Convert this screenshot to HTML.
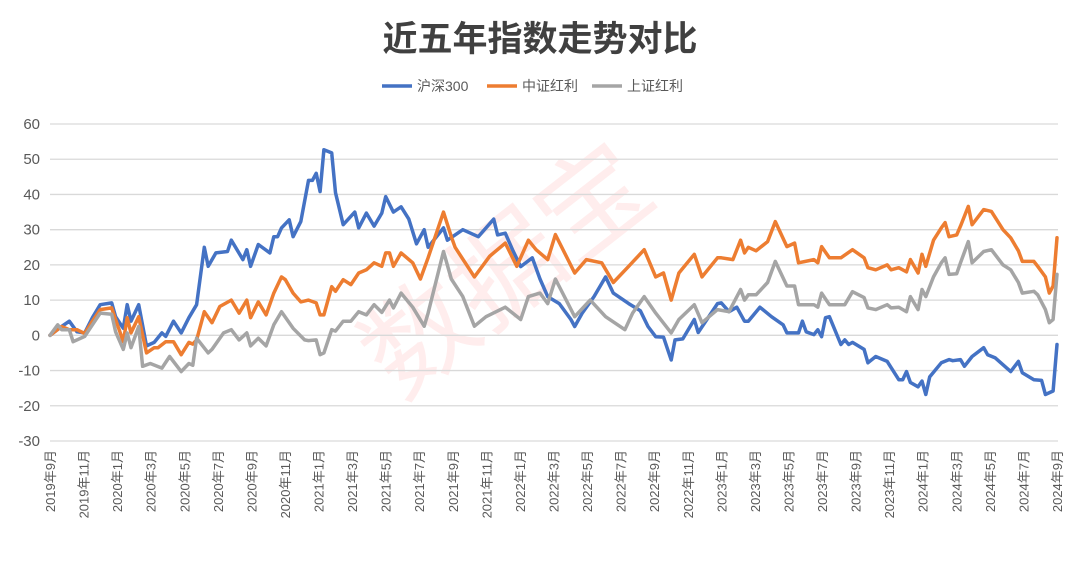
<!DOCTYPE html>
<html><head><meta charset="utf-8">
<style>
html,body{margin:0;padding:0;background:#fff;}
svg{display:block;font-family:"Liberation Sans","Noto Sans CJK SC",sans-serif;}
</style></head>
<body>
<svg id="chart" width="1080" height="562" viewBox="0 0 1080 562" xmlns="http://www.w3.org/2000/svg">
<rect width="1080" height="562" fill="#fff"/>
<text x="540" y="51" text-anchor="middle" font-size="35" font-weight="bold" fill="#404040" font-family="'Liberation Sans','Noto Sans CJK SC',sans-serif">近五年指数走势对比</text>
<g>
<g><line x1="382" y1="86" x2="412" y2="86" stroke="#4472C4" stroke-width="3.5"/><text x="417" y="91" font-size="14" fill="#595959">沪深300</text></g>
<g><line x1="487" y1="86" x2="517" y2="86" stroke="#ED7D31" stroke-width="3.5"/><text x="522" y="91" font-size="14" fill="#595959">中证红利</text></g>
<g><line x1="592" y1="86" x2="622" y2="86" stroke="#A5A5A5" stroke-width="3.5"/><text x="627" y="91" font-size="14" fill="#595959">上证红利</text></g>
</g>
<text x="0" y="0" transform="translate(530,300) rotate(-38)" text-anchor="middle" font-size="110" fill="rgba(255,0,0,0.07)">数据宝</text>
<g id="grid"></g>
<g id="series"></g>
<g id="xlabels"></g>
</svg>
<script>
const yTicks = [60,50,40,30,20,10,0,-10,-20,-30];
const xLabels = ["2019年9月","2019年11月","2020年1月","2020年3月","2020年5月","2020年7月","2020年9月","2020年11月","2021年1月","2021年3月","2021年5月","2021年7月","2021年9月","2021年11月","2022年1月","2022年3月","2022年5月","2022年7月","2022年9月","2022年11月","2023年1月","2023年3月","2023年5月","2023年7月","2023年9月","2023年11月","2024年1月","2024年3月","2024年5月","2024年7月","2024年9月"];
const totalWeeks = 261;

const hsWeeks = [0,3,5,7,9,11,13,16,17,19,20,21,23,25,27,29,30,32,34,36,38,40,41,43,46,47,50,51,52,54,57,58,59,60,62,63,65,67,68,69,70,71,73,74,76,79,80,82,84,86,87,89,91,93,95,97,98,102,103,107,111,115,116,118,120,122,125,127,129,132,135,136,138,141,144,146,150,153,155,157,159,161,162,164,167,168,173,174,176,178,180,181,184,187,190,191,194,195,196,198,199,200,201,202,205,206,207,208,211,212,214,217,220,221,222,223,225,226,227,228,231,233,234,236,237,239,242,243,245,249,251,252,255,257,258,260,261];
const hsValues = [0,2.5,4,1,0.7,5,8.7,9.2,5.3,2,8.7,4,8.7,-3,-2,0.7,-0.3,4,0.7,5,8.7,25,19.6,23.4,23.8,27,21.5,24.3,19.6,25.8,23.4,28,28,30.5,32.8,28,32.3,44,44,46,40.8,52.7,51.8,40.5,31.4,35,30.5,34.7,31,34.7,39.4,35,36.5,33,26,30,25,30.5,27,30,28,33,28.5,29,24,19.5,22,16,11,9,4.5,2.5,6.4,11,16.6,12,9,7,2.5,-0.4,-0.5,-7,-1.3,-1,4.5,0.8,9,9.2,6.7,8,4,4,8,5.3,3,0.7,0.7,4,1,0.2,1.6,-0.4,5,5.3,-2.6,-1.3,-2.6,-2,-4,-7.8,-6,-7.4,-12.6,-12.6,-10.3,-13.4,-14.6,-13,-16.8,-11.8,-7.8,-6.9,-7.2,-6.9,-8.8,-6,-3.5,-5.5,-6.4,-10.3,-7.4,-10.6,-12.6,-12.8,-16.8,-15.8,-2.6];

const zzWeeks = [0,3,5,7,9,11,13,16,17,19,20,21,23,25,27,28,30,32,34,36,37,38,40,42,44,47,49,51,52,54,56,58,60,61,63,65,67,69,70,71,73,74,76,78,80,82,84,86,87,88,89,91,94,96,98,102,104,105,110,114,118,121,124,126,129,131,136,139,143,146,150,154,157,159,161,163,167,169,173,174,177,179,180,181,183,186,188,191,193,194,198,199,200,202,205,208,211,212,214,217,218,220,222,223,225,226,227,229,231,232,233,235,236,238,239,242,244,247,249,251,252,255,256,258,259,260,261];
const zzValues = [0,2.5,1.6,1.6,0.5,4,7.3,7.8,4.5,-1.8,5,0.7,5.3,-5,-3.5,-3.5,-1.8,-1.8,-5.5,-2,-2.5,-1.3,6.7,3.6,8.2,10,6.3,10,5,9.5,5.8,12,16.6,15.8,12,9.5,10,9.2,5.8,5.8,13.8,12.5,15.8,14.4,17.7,18.6,20.6,19.6,23.4,23.4,19.6,23.4,20.6,16,22,35,28,25,16.6,22.5,26.2,19.6,27,24.3,21.5,28.6,17.7,21.5,20.6,15,19.6,24.3,16.6,17.7,10,17.7,23,16.6,22,22,21.5,27,23.4,25,24,26.6,32.3,25.2,26.2,20.6,21.5,20.6,25.2,22,22,24.3,22,19.2,18.6,20,18.6,19.2,18,21.5,17.7,23,19.6,27,30.5,32,28,28.5,31,36.6,31.4,35.7,35.2,30,27.7,24,21,21,19.6,16.6,12,14,27.7];

const shWeeks = [0,2,3,5,6,9,11,13,16,17,19,20,21,23,24,26,29,31,34,36,37,38,41,42,45,47,49,51,52,54,56,58,60,63,66,67,69,70,71,73,74,76,78,80,82,84,86,88,89,91,94,97,98,102,104,107,110,113,118,122,124,127,129,131,136,140,144,149,151,154,157,161,163,167,169,173,176,179,180,181,183,186,188,191,193,194,198,199,200,202,206,208,211,212,214,217,218,220,222,223,225,226,227,229,231,232,233,235,236,238,239,242,244,247,249,251,252,255,256,258,259,260,261];
const shValues = [0,3,1.6,1.6,-1.8,-0.3,3,6.3,6,1,-4,0.7,-3.5,2.5,-8.8,-8,-9.3,-6,-10.3,-8,-8.5,-0.8,-5,-4,0.7,1.6,-1.3,0.7,-3,-0.8,-3,3,6.7,2,-1.3,-1.5,-1.3,-5.5,-5,1.6,1.2,4,4,6.7,5.8,8.7,6.5,10,7.8,12,8,2.6,6.3,23.8,16,11,2.6,5.3,8,4.5,11,12,9,16,5.3,10,5.3,1.6,6.3,11,6.3,0.7,4.5,8.7,3.6,7.3,6.7,13,10,11.5,11.5,15,21,14,14,8.7,8.7,8,12,8.7,8.7,12.4,10.7,7.8,7.3,8.7,7.8,8,6.7,11,7.3,13,11,16.6,20.6,22,17.3,17.5,20.6,26.6,20.6,23.8,24.3,20,18.6,15,12,12.5,11.5,7.3,3.6,4.5,17.3];

const NS = "http://www.w3.org/2000/svg";
const X0 = 50, X1 = 1057, Y60 = 124, Ym30 = 441;
function xScale(w){ return X0 + (w/totalWeeks)*(X1-X0); }
function yScale(v){ return Y60 + (60 - v)/90*(Ym30-Y60); }

const grid = document.getElementById('grid');
yTicks.forEach(function(t){
  const y = yScale(t);
  const ln = document.createElementNS(NS,'line');
  ln.setAttribute('x1',X0); ln.setAttribute('x2',1058);
  ln.setAttribute('y1',y); ln.setAttribute('y2',y);
  ln.setAttribute('stroke','#d9d9d9'); ln.setAttribute('stroke-width','1.3');
  
  
  grid.appendChild(ln);
  const tx = document.createElementNS(NS,'text');
  tx.setAttribute('x',40); tx.setAttribute('y',y+5);
  tx.setAttribute('text-anchor','end'); tx.setAttribute('font-size','15'); tx.setAttribute('fill','#595959');
  tx.textContent = t;
  
  
  grid.appendChild(tx);
});

const xl = document.getElementById('xlabels');
xLabels.forEach(function(lab,i){
  const x = xScale(i*totalWeeks/(xLabels.length-1));
  const tx = document.createElementNS(NS,'text');
  tx.setAttribute('transform','translate('+(x+5)+',450) rotate(-90)');
  tx.setAttribute('text-anchor','end'); tx.setAttribute('font-size','13'); tx.setAttribute('fill','#595959');
  tx.textContent = lab;
  
  
  xl.appendChild(tx);
});

const sg = document.getElementById('series');
function drawLine(weeks, vals, color, name){
  let d = '';
  for (let i=0;i<vals.length;i++){
    d += (i?'L':'M') + xScale(weeks[i]).toFixed(1) + ' ' + yScale(vals[i]).toFixed(1);
  }
  const p = document.createElementNS(NS,'path');
  p.setAttribute('d',d); p.setAttribute('fill','none');
  p.setAttribute('stroke',color); p.setAttribute('stroke-width','3.5');
  p.setAttribute('stroke-linejoin','round'); p.setAttribute('stroke-linecap','round');
  
  
  sg.appendChild(p);
}
drawLine(hsWeeks, hsValues, '#4472C4', 'series-hs300-line');
drawLine(zzWeeks, zzValues, '#ED7D31', 'series-zzhl-line');
drawLine(shWeeks, shValues, '#A5A5A5', 'series-szhl-line');
</script>
</body></html>
